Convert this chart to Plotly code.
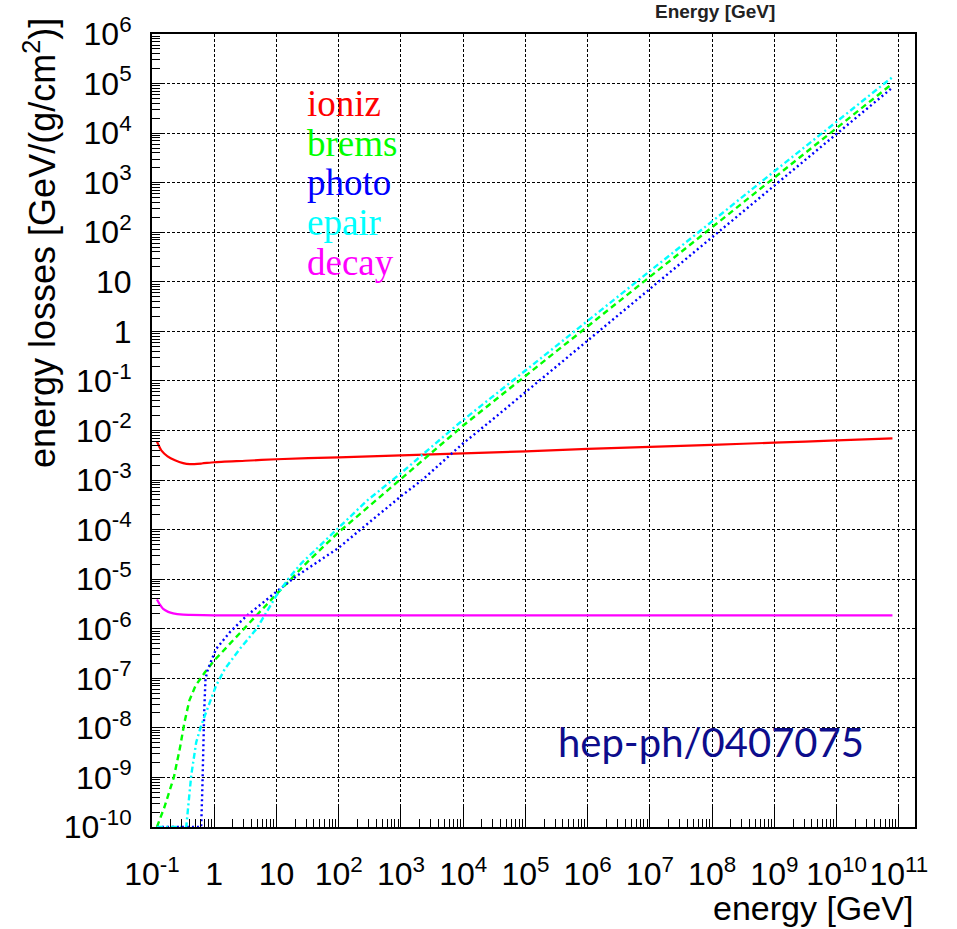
import plotly.graph_objects as go

# ---------------- data ----------------
ioniz_E = [0.12, 0.141, 0.178, 0.234, 0.316, 0.407, 0.631, 1, 3.16, 10, 100, 1e3, 1e4, 1e5, 1e6, 1e7, 1e8, 1e9, 1e10, 7.9e10]
ioniz_loss = [6.0e-3, 3.98e-3, 3.02e-3, 2.51e-3, 2.19e-3, 2.09e-3, 2.16e-3, 2.29e-3, 2.45e-3, 2.63e-3,
              2.88e-3, 3.16e-3, 3.47e-3, 3.8e-3, 4.27e-3, 4.68e-3, 5.13e-3, 5.69e-3, 6.31e-3, 6.92e-3]

brems_E = [0.12, 0.158, 0.224, 0.282, 0.331, 0.398, 0.501, 0.708, 1, 1.78, 3.16, 5.62, 10, 31.6, 100,
           1e3, 1e4, 1e5, 1e6, 1e7, 1e8, 1e9, 1e10, 7.9e10]
brems_loss = [1.0e-10, 2.5e-10, 1.0e-9, 4.0e-9, 1.26e-8, 3.55e-8, 7.1e-8, 1.32e-7, 2.29e-7, 5.0e-7,
              1.05e-6, 2.29e-6, 5.0e-6, 2.24e-5, 8.9e-5, 1.05e-3, 1.26e-2, 0.126, 1.26, 12.6, 126,
              1260, 12600, 1.0e5]

photo_E = [0.12, 0.617, 0.646, 0.661, 0.692, 0.724, 0.794, 1.07, 1.78, 3.31, 6.03, 10, 20.9, 100, 219,
           1.02e3, 2.29e3, 9.55e3, 3.02e4, 1e5, 1e6, 1e7, 1e8, 1e9, 1e10, 7.9e10]
photo_loss = [1e-10, 1e-10, 6.9e-10, 3.24e-9, 2.4e-8, 9.8e-8, 1.55e-7, 3.9e-7, 8.5e-7, 1.82e-6, 3.39e-6,
              5.6e-6, 1.15e-5, 4.3e-5, 9.8e-5, 4.8e-4, 1.05e-3, 5.25e-3, 1.7e-2, 5.9e-2, 0.646, 7.08,
              79.4, 871, 9550, 8.3e4]

epair_E = [0.12, 0.355, 0.427, 0.513, 0.617, 0.851, 1.07, 1.48, 2.57, 4.79, 7.08, 10, 15.8, 25.1, 63.1,
           282, 1e3, 3.16e3, 8.9e3, 1e5, 1e6, 1e7, 1e8, 1e9, 1e10, 7.9e10]
epair_loss = [1e-10, 1e-10, 1.1e-9, 5.1e-9, 1.12e-8, 3.3e-8, 7.1e-8, 1.55e-7, 3.9e-7, 1.0e-6, 2.24e-6,
              4.7e-6, 1.05e-5, 2.09e-5, 6.3e-5, 3.8e-4, 1.38e-3, 4.8e-3, 1.45e-2, 0.162, 1.62, 16.6,
              166, 1700, 17000, 1.35e5]

decay_E = [0.12, 0.135, 0.151, 0.182, 0.219, 0.316, 0.407, 1, 10, 1e3, 1e6, 1e9, 7.9e10]
decay_loss = [3.89e-6, 3.02e-6, 2.51e-6, 2.19e-6, 2.04e-6, 1.93e-6, 1.91e-6, 1.86e-6, 1.86e-6,
              1.86e-6, 1.86e-6, 1.86e-6, 1.86e-6]

legend_labels = ["ioniz", "brems", "photo", "epair", "decay"]
legend_colors = ["#ff0000", "#00ff00", "#0000ff", "#00ffff", "#ff00ff"]

x_exponents = list(range(-1, 12))
y_exponents = list(range(-10, 7))
minor_digits = [2, 3, 4, 5, 6, 7, 8, 9]


def power_label(e):
    if e == 0:
        return "1"
    if e == 1:
        return "10"
    return "10<sup>%d</sup>" % e


# ---------------- figure ----------------
fig = go.Figure()
series = [
    (ioniz_E, ioniz_loss, "ioniz", "#ff0000", "solid", 2.2, "spline"),
    (brems_E, brems_loss, "brems", "#00ff00", "6px,4px", 2.4, "linear"),
    (photo_E, photo_loss, "photo", "#0000ff", "2px,3px", 2.4, "linear"),
    (epair_E, epair_loss, "epair", "#00ffff", "6px,3px,2px,3px", 2.4, "linear"),
    (decay_E, decay_loss, "decay", "#ff00ff", "solid", 2.2, "spline"),
]
for xs, ys, name, col, dash, w, shape in series:
    fig.add_trace(go.Scatter(x=xs, y=ys, mode="lines", name=name,
                             line=dict(color=col, dash=dash, width=w, shape=shape, smoothing=0.6)))

tick_font = dict(family="Liberation Sans, Arial, sans-serif", size=32, color="black")

fig.update_xaxes(
    type="log", range=[-1, 11.26],
    tickmode="array",
    tickvals=[10.0 ** e for e in x_exponents],
    ticktext=[power_label(e) for e in x_exponents],
    ticks="inside", ticklen=20, tickwidth=1, tickcolor="black",
    tickfont=tick_font, ticklabelstandoff=18,
    showline=True, linecolor="black", linewidth=2, mirror=True,
    showgrid=True, gridcolor="black", gridwidth=1, griddash="3px,2px",
    zeroline=False,
    minor=dict(tickmode="array",
               tickvals=[d * 10.0 ** e for e in x_exponents for d in minor_digits],
               ticks="inside", ticklen=8, tickcolor="black", tickwidth=1, showgrid=False),
)
fig.update_yaxes(
    type="log", range=[-10, 6],
    tickmode="array",
    tickvals=[10.0 ** e for e in y_exponents],
    ticktext=[power_label(e) for e in y_exponents],
    ticks="inside", ticklen=10, tickwidth=1, tickcolor="black",
    tickfont=tick_font, ticklabelstandoff=12,
    showline=True, linecolor="black", linewidth=2, mirror=True,
    showgrid=True, gridcolor="black", gridwidth=1, griddash="3px,2px",
    zeroline=False,
    minor=dict(tickmode="array",
               tickvals=[d * 10.0 ** e for e in y_exponents for d in minor_digits],
               ticks="inside", ticklen=8, tickcolor="black", tickwidth=1, showgrid=False),
)

annotations = []
# in-plot legend as coloured serif words
legend_centers_px = [103, 143, 182, 222, 262]
for lab, col, py in zip(legend_labels, legend_colors, legend_centers_px):
    annotations.append(dict(text=lab, xref="paper", yref="paper",
                            x=(305 - 152) / 763, y=(827 - py) / 793,
                            xanchor="left", yanchor="middle", showarrow=False,
                            font=dict(family="Liberation Serif, Times New Roman, serif", size=37, color=col)))
# axis titles
annotations.append(dict(text="energy [GeV]", xref="paper", yref="paper",
                        x=1.0, y=(827 - 908) / 793, xanchor="right", yanchor="middle", showarrow=False,
                        font=dict(family="Liberation Sans, Arial, sans-serif", size=34, color="black")))
annotations.append(dict(text="energy losses [GeV/(g/cm<sup>2</sup>)]", xref="paper", yref="paper",
                        x=(40 - 152) / 763, y=(827 - 16) / 793, xanchor="center", yanchor="top",
                        textangle=-90, showarrow=False,
                        font=dict(family="Liberation Sans, Arial, sans-serif", size=36, color="black")))
# reference tag
annotations.append(dict(text="hep-ph/0407075", xref="paper", yref="paper",
                        x=(711 - 152) / 763, y=(827 - 742) / 793, xanchor="center", yanchor="middle",
                        showarrow=False,
                        font=dict(family="Lato, Open Sans, sans-serif", size=40, color="#0d0d8c")))
# cropped heading at the top
annotations.append(dict(text="<b>Energy [GeV]</b>", xref="paper", yref="paper",
                        x=(715 - 152) / 763, y=(827 - 11) / 793, xanchor="center", yanchor="middle",
                        showarrow=False,
                        font=dict(family="Liberation Sans, Arial, sans-serif", size=19, color="#222222")))

fig.update_layout(
    width=957, height=929, autosize=False,
    margin=dict(l=152, r=42, t=34, b=102),
    paper_bgcolor="white", plot_bgcolor="white",
    showlegend=False,
    annotations=annotations,
)

fig.write_html("out.html", config={"displayModeBar": False},
               post_script="document.body.style.margin='0';document.body.style.overflow='hidden';")
